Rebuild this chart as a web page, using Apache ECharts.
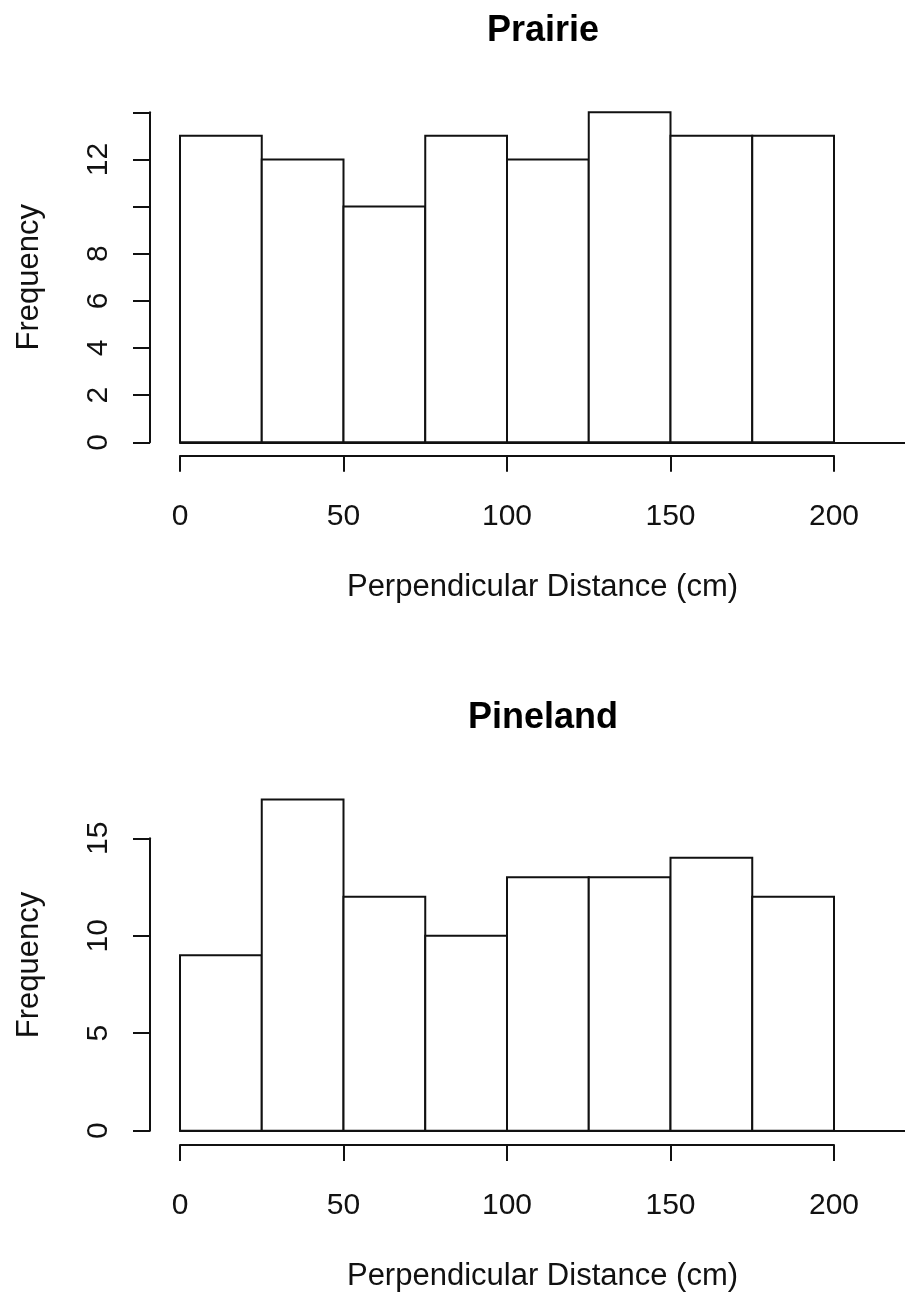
<!DOCTYPE html>
<html>
<head>
<meta charset="utf-8">
<style>
  html, body { margin: 0; padding: 0; background: #fff; }
  #chart { width: 905px; height: 1295px; }
</style>
<script src="https://cdn.jsdelivr.net/npm/echarts@6/dist/echarts.min.js"></script>
</head>
<body>
<div id="chart"></div>
<script>
// Histogram bin edges (cm) and counts per bin
const breaks = [0, 25, 50, 75, 100, 125, 150, 175, 200];
const prairieCounts = [13, 12, 10, 13, 12, 14, 13, 13];
const pinelandCounts = [9, 17, 12, 10, 13, 13, 14, 12];

// Axis ticks
const xTicks = [0, 50, 100, 150, 200];
const prairieYLabels = [0, 2, 4, 6, 8, 12];
const pinelandYLabels = [0, 5, 10, 15];

const titles = ['Prairie', 'Pineland'];
const xTitle = 'Perpendicular Distance (cm)';
const yTitle = 'Frequency';

const FONT = 'Liberation Sans, Arial, Helvetica, sans-serif';
const INK = '#111';

function binRows(counts) {
  return counts.map((c, i) => [breaks[i], breaks[i + 1], c]);
}

// Panel geometry (pixels)
const panels = [
  { counts: prairieCounts, yMax: 14, yAxisMax: 14, yInterval: 2, yLabels: prairieYLabels,
    zeroY: 442.3, topY: 112.3, axisTopY: 112.3, xAxisY: 455.7, titleY: 31 },
  { counts: pinelandCounts, yMax: 17, yAxisMax: 15, yInterval: 5, yLabels: pinelandYLabels,
    zeroY: 1130.7, topY: 799.4, axisTopY: 838.3, xAxisY: 1145, titleY: 718 }
];

const X0 = 180, X200 = 834, RIGHT = 905;
const xMaxBars = (RIGHT - X0) / ((X200 - X0) / 200);

const grid = [], xAxis = [], yAxis = [], series = [], graphic = [];

panels.forEach((p, k) => {
  const g = grid.length;
  // bars grid; its x axis line is the baseline running to the right edge
  grid.push({ left: X0, width: RIGHT - X0, top: p.topY, height: p.zeroY - p.topY });
  xAxis.push({ gridIndex: g, type: 'value', min: 0, max: xMaxBars,
    axisLine: { show: true, onZero: false, lineStyle: { color: INK, width: 2 } },
    axisTick: { show: false }, axisLabel: { show: false }, splitLine: { show: false },
    name: xTitle, nameLocation: 'middle', nameGap: 130,
    nameTextStyle: { fontFamily: FONT, fontSize: 31, color: INK } });
  yAxis.push({ gridIndex: g, type: 'value', min: 0, max: p.yMax,
    axisLine: { show: false }, axisTick: { show: false }, axisLabel: { show: false },
    splitLine: { show: false },
    name: yTitle, nameLocation: 'middle', nameGap: 135, nameRotate: 90,
    nameTextStyle: { fontFamily: FONT, fontSize: 31, color: INK } });
  series.push({
    type: 'custom', xAxisIndex: g, yAxisIndex: g,
    data: binRows(p.counts),
    encode: { x: [0, 1], y: 2 },
    renderItem(params, api) {
      const a = api.coord([api.value(0), 0]);
      const b = api.coord([api.value(1), api.value(2)]);
      return { type: 'rect',
        shape: { x: a[0], y: b[1], width: b[0] - a[0], height: a[1] - b[1] },
        style: { fill: '#fff', stroke: INK, lineWidth: 2 } };
    }
  });

  // y axis grid (tick range only)
  const gy = grid.length;
  grid.push({ left: 150, width: 10, top: p.axisTopY, height: p.zeroY - p.axisTopY });
  xAxis.push({ gridIndex: gy, type: 'value', show: false });
  yAxis.push({ gridIndex: gy, type: 'value', min: 0, max: p.yAxisMax, interval: p.yInterval,
    axisLine: { show: true, lineStyle: { color: INK, width: 2 } },
    axisTick: { show: true, length: 17, lineStyle: { color: INK, width: 2 } },
    splitLine: { show: false },
    axisLabel: { rotate: 90, margin: 36, fontFamily: FONT, fontSize: 30, color: INK,
      formatter: v => (p.yLabels.indexOf(v) >= 0 ? String(v) : '') } });

  // x axis grid (0-200 only, drawn below the bars)
  const gx = grid.length;
  grid.push({ left: X0, width: X200 - X0, top: p.xAxisY - 1, height: 1 });
  yAxis.push({ gridIndex: gx, type: 'value', show: false });
  xAxis.push({ gridIndex: gx, type: 'value', min: 0, max: 200, interval: 50,
    axisLine: { show: true, lineStyle: { color: INK, width: 2 } },
    axisTick: { show: true, length: 16, lineStyle: { color: INK, width: 2 } },
    splitLine: { show: false },
    axisLabel: { margin: 46, fontFamily: FONT, fontSize: 30, color: INK,
      formatter: v => (xTicks.indexOf(v) >= 0 ? String(v) : '') } });

  graphic.push({ type: 'text', x: 543, y: p.titleY,
    style: { text: titles[k], fontFamily: FONT, fontSize: 36, fontWeight: 'bold',
      fill: '#000', textAlign: 'center', textVerticalAlign: 'middle' } });
});

const chart = echarts.init(document.getElementById('chart'), null, { renderer: 'canvas' });
chart.setOption({
  backgroundColor: '#fff',
  animation: false,
  grid, xAxis, yAxis, series, graphic
});
</script>
</body>
</html>
